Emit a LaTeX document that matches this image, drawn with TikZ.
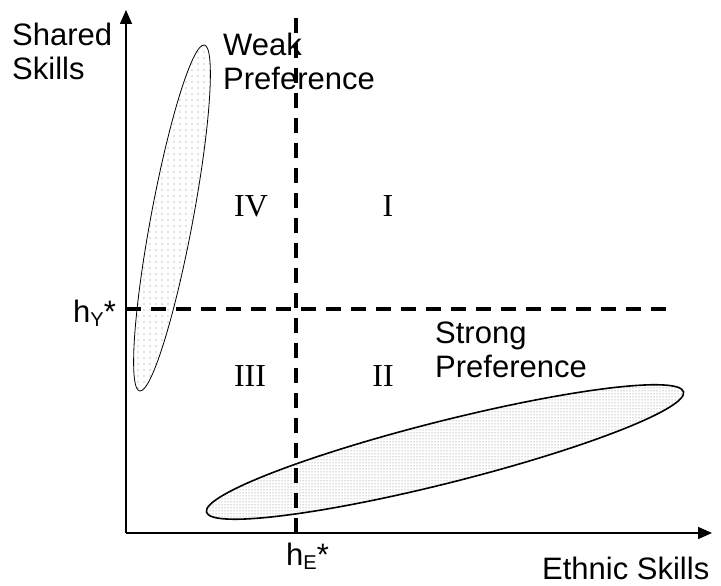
\documentclass[tikz,border=0pt]{standalone}
\usepackage{fontspec}
\setmainfont{Liberation Sans}
\newfontfamily\romanfont{Liberation Serif}
\usetikzlibrary{arrows.meta,patterns,patterns.meta}
\tikzdeclarepattern{
  name=sparsedots,
  type=uncolored,
  bottom left={(-1pt,-1pt)},
  top right={(6pt,6pt)},
  tile size={(6pt,6pt)},
  code={\fill (0pt,0pt) circle (0.7pt);}
}
\tikzset{
  axis/.style={line width=1.6pt,-{Triangle[length=14pt,width=12pt]}},
  thresh/.style={line width=3.5pt,dash pattern=on 15pt off 10pt},
  lbl/.style={inner sep=0pt,anchor=base west,font=\fontsize{31}{34}\selectfont,align=left},
  roman/.style={inner sep=0pt,anchor=base,font=\romanfont\fontsize{32}{34}\selectfont},
  blob/.style={pattern=sparsedots,pattern color=gray}
}
\newcommand{\subY}[1]{\raisebox{-4pt}{\fontsize{20}{20}\selectfont #1}}
\begin{document}
\begin{tikzpicture}[x=1pt,y=1pt]
\useasboundingbox (0,0) rectangle (721,586);
% ellipses
\draw[blob,line width=0.8pt] (172,368) ellipse[x radius=176,y radius=21,rotate=79.4];
\draw[pattern=dots,pattern color=black!55,line width=1.6pt] (445,134) ellipse[x radius=246,y radius=31,rotate=14.15];
% axes
\coordinate (O) at (126,53);
\coordinate (ytip) at (126,576);
\coordinate (xtip) at (712,53);
\draw[axis] (O) -- (ytip);
\draw[axis] (O) -- (xtip);
% thresholds
\coordinate (vb) at (296,53);
\coordinate (vt) at (296,573);
\coordinate (hl) at (126,277);
\coordinate (hr) at (673,277);
\draw[thresh] (vb) -- (vt);
\draw[thresh] (hl) -- (hr);
% labels (base = baseline of last line)
\node[lbl] (shared) at (12,506) {Shared\\Skills};
\node[lbl] (weak) at (223,496) {Weak\\Preference};
\node[lbl] (strong) at (435,208) {Strong\\Preference};
\node[lbl] (ethnic) at (542,6) {Ethnic Skills};
\node[lbl] (hy) at (73,263) {h\subY{Y}*};
\node[lbl] (he) at (286,20) {h\subY{E}*};
\node[roman] (q1) at (388,369) {I};
\node[roman] (q4) at (251,369) {IV};
\node[roman] (q3) at (250,199) {III};
\node[roman] (q2) at (383,199) {II};
\end{tikzpicture}
\end{document}
